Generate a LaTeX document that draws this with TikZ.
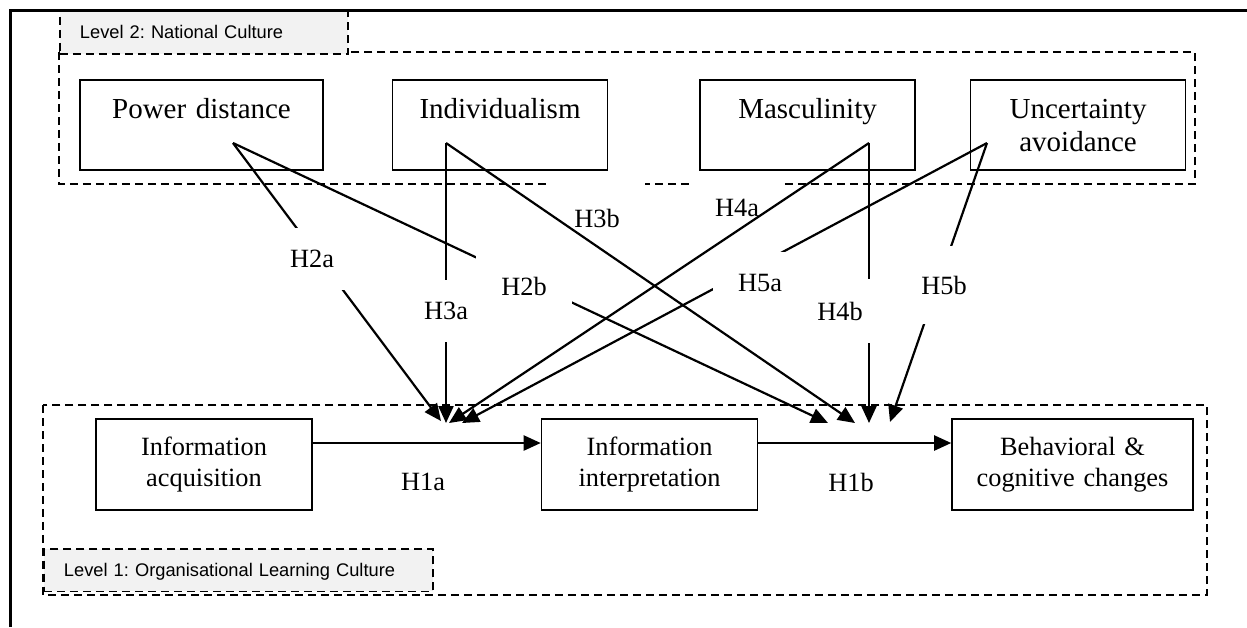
\documentclass[tikz,border=0pt]{standalone}
\usepackage{fontspec}
\setmainfont{Liberation Serif}
\newfontfamily\tagfamily{Liberation Sans}
\usepackage{xcolor}
\usepackage{tikz}
\usetikzlibrary{arrows.meta, positioning}

\definecolor{tagfill}{HTML}{F2F2F2}

\newcommand{\culturefont}{\fontsize{16.5}{18.8}\selectfont}
\newcommand{\learnfont}{\fontsize{15}{18.2}\selectfont}
\newcommand{\tagfont}{\tagfamily\fontsize{10.4}{12}\selectfont}
\frenchspacing

\begin{document}
\begin{tikzpicture}[x=0.02cm, y=-0.02cm,
          outerframe/.style={line width=1.7pt, line join=miter},
          levelbox/.style={draw, dash pattern=on 0.16cm off 0.1cm, line width=1.1pt},
          leveltag/.style={levelbox, fill=tagfill, anchor=north west, font=\tagfont, inner xsep=0.4cm, inner ysep=0pt, text height=0.55cm, text depth=0.3cm, align=left},
          dimension/.style={draw, line width=0.9pt, inner sep=0pt, text width=4.3cm, text height=0.77cm, text depth=1.03cm, align=center, font=\culturefont},
          stage/.style={draw, line width=0.9pt, inner sep=0pt, text width=4.32cm, text height=0.72cm, text depth=1.1cm, align=center, font=\learnfont},
          hyp/.style={fill=white, inner xsep=0.5cm, inner ysep=0.45cm, font=\learnfont},
          arrow/.style={-{Triangle[length=0.34cm, width=0.3cm]}, line width=1.25pt},
          node distance=1.36cm
      ]
      \useasboundingbox (0,0) rectangle (1247,627);

      % Levels
      \draw[levelbox] (59,52) rectangle (1195,184);
      \draw[levelbox] (43,405) rectangle (1207,595);
      \node[leveltag, text width=4.96cm] (lvtwo) at (59,10.5) {Level 2: National Culture};
      \node[leveltag, text width=6.98cm] (lvone) at (43,548) {Level 1: Organisational Learning Culture};

      % National culture dimensions
      \node[dimension, text width=4.86cm] (pd) at (201.5,125) {Power distance};
      \node[dimension, right=of pd] (ind) {Individualism};
      \node[dimension, right=1.82cm of ind] (masc) {Masculinity};
      \node[dimension, right=1.08cm of masc] (ua) {Uncertainty\\avoidance};

      % Learning stages
      \node[stage] (acq) at (204,464.5) {Information\\acquisition};
      \node[stage, right=4.56cm of acq] (interp) {Information\\interpretation};
      \node[stage, text width=4.82cm, right=3.86cm of interp] (change) {Behavioral \&\\cognitive changes};

      % Arrow ends
      \coordinate (pd-out) at (233,143);
      \coordinate (ind-out) at (446,143);
      \coordinate (masc-out) at (869,143);
      \coordinate (ua-out) at (987,143);
      \coordinate (pd-in) at (441,421);
      \coordinate (ind-in) at (446,423);
      \coordinate (masc-in) at (449,423);
      \coordinate (ua-in) at (462,423);
      \coordinate (pd-in2) at (828,423);
      \coordinate (ind-in2) at (855,423);
      \coordinate (masc-in2) at (869,423);
      \coordinate (ua-in2) at (890,422);

      % Labels under the arrows
      \node[hyp, inner ysep=0.55cm] (h3b) at (597,218) {H3b};
      \node[hyp] (h4a) at (737,208) {H4a};

      % Culture to learning
      \draw[arrow] (pd-out) -- (pd-in);
      \draw[arrow] (pd-out) -- (pd-in2);
      \draw[arrow] (ind-out) -- (ind-in);
      \draw[arrow] (ind-out) -- (ind-in2);
      \draw[arrow] (masc-out) -- (masc-in);
      \draw[arrow] (masc-out) -- (masc-in2);
      \draw[arrow] (ua-out) -- (ua-in);
      \draw[arrow] (ua-out) -- (ua-in2);

      % Learning chain
      \draw[arrow] ([yshift=0.43cm]acq.east) -- ([yshift=0.43cm]interp.west);
      \draw[arrow] ([yshift=0.43cm]interp.east) -- ([yshift=0.43cm]change.west);

      % Labels over the arrows
      \node[hyp] (h2a) at (312,259) {H2a};
      \node[hyp] (h2b) at (524,286) {H2b};
      \node[hyp] (h3a) at (446,311) {H3a};
      \node[hyp] (h4b) at (840,311) {H4b};
      \node[hyp] (h5a) at (760,283) {H5a};
      \node[hyp, inner ysep=0.6cm] (h5b) at (944,285) {H5b};
      \node[font=\learnfont] (h1a) at (423,482) {H1a};
      \node[font=\learnfont] (h1b) at (851,482) {H1b};

      % Frame
      \draw[outerframe] (10.5,627) -- (10.5,10.5) -- (1247,10.5);

\end{tikzpicture}
\end{document}
